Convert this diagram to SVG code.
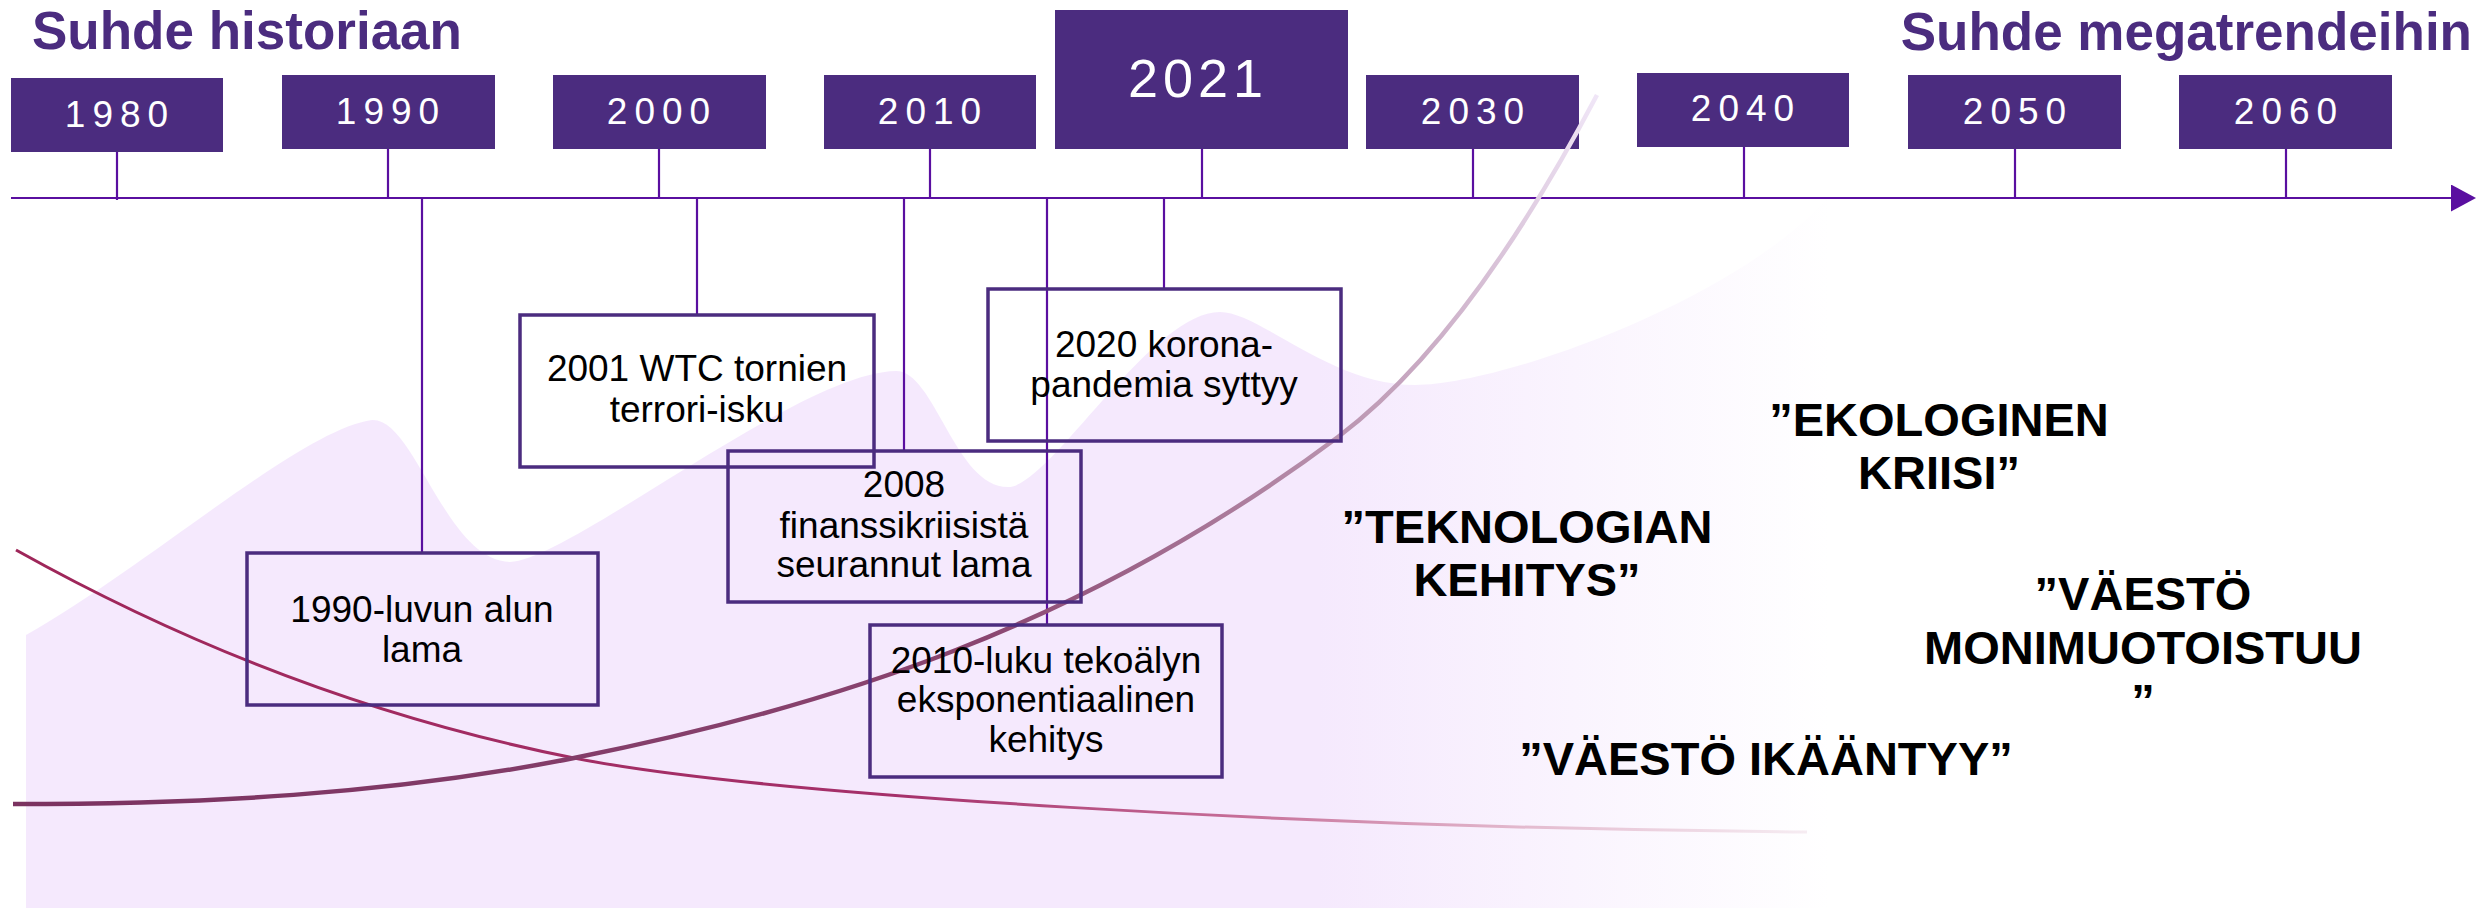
<svg xmlns="http://www.w3.org/2000/svg" width="2489" height="908" viewBox="0 0 2489 908">
  <defs>
    <style>
      .title { font-family: "Liberation Sans", Arial, sans-serif; font-weight: bold; font-size: 53px; fill: #4B2C7F; }
      .yearbox { fill: #4B2C7F; }
      .year { font-family: "Liberation Sans", Arial, sans-serif; font-size: 37px; fill: #FFFFFF; letter-spacing: 7px; text-anchor: middle; }
      .year-big { font-family: "Liberation Sans", Arial, sans-serif; font-size: 54px; fill: #FFFFFF; letter-spacing: 5px; text-anchor: middle; }
      .tick { stroke: #5A0FA0; stroke-width: 2.2; fill: none; }
      .evbox { fill: none; stroke: #4B2C7F; stroke-width: 3.5; }
      .ev { font-family: "Liberation Sans", Arial, sans-serif; font-size: 37px; fill: #000000; text-anchor: middle; }
      .trend { font-family: "Liberation Sans", Arial, sans-serif; font-weight: bold; font-size: 47px; fill: #000000; text-anchor: middle; }
    </style>
    <linearGradient id="bgGrad" gradientUnits="userSpaceOnUse" x1="0" y1="0" x2="1830" y2="0">
      <stop offset="0" stop-color="#F5E9FD"/>
      <stop offset="0.72" stop-color="#F5E9FD"/>
      <stop offset="1" stop-color="#FFFFFF"/>
    </linearGradient>
    <linearGradient id="growGrad" gradientUnits="userSpaceOnUse" x1="13" y1="804" x2="1597" y2="95">
      <stop offset="0" stop-color="#7B3260"/>
      <stop offset="0.55" stop-color="#8A4570"/>
      <stop offset="0.78" stop-color="#B992AE"/>
      <stop offset="1" stop-color="#F0E6F7"/>
    </linearGradient>
    <linearGradient id="decayGrad" gradientUnits="userSpaceOnUse" x1="16" y1="550" x2="1807" y2="832">
      <stop offset="0" stop-color="#9E2659"/>
      <stop offset="0.5" stop-color="#A5306A"/>
      <stop offset="0.68" stop-color="#C46A95"/>
      <stop offset="0.85" stop-color="#E4BCD0"/>
      <stop offset="1" stop-color="#F6ECF2"/>
    </linearGradient>
    <marker id="arrow" markerUnits="userSpaceOnUse" markerWidth="26" markerHeight="28" refX="1" refY="13.5" orient="auto">
      <path d="M0,0 L25,13.5 L0,27 Z" fill="#5A0FA0"/>
    </marker>
  </defs>

  <rect width="2489" height="908" fill="#FFFFFF"/>

  <g id="background">
    <path d="M26,908 L26,635 C150,565 300,430 372,420 C415,418 445,560 510,562 C570,560 800,372 896,371 C935,371 955,487 1008,487 C1050,487 1150,312 1220,312 C1260,312 1330,385 1415,385 C1500,385 1740,300 1830,195 L1830,908 Z" fill="url(#bgGrad)"/>
  </g>

  <g id="titles">
    <text class="title" x="32" y="49">Suhde historiaan</text>
    <text class="title" x="2472" y="50" text-anchor="end">Suhde megatrendeihin</text>
  </g>

  <g id="connectors">
    <line class="tick" x1="11" y1="198" x2="2452" y2="198" stroke-width="2.5" marker-end="url(#arrow)"/>
    <line class="tick" x1="117" y1="152" x2="117" y2="200"/>
    <line class="tick" x1="388" y1="149" x2="388" y2="198"/>
    <line class="tick" x1="659" y1="149" x2="659" y2="198"/>
    <line class="tick" x1="930" y1="149" x2="930" y2="198"/>
    <line class="tick" x1="1202" y1="149" x2="1202" y2="198"/>
    <line class="tick" x1="1473" y1="149" x2="1473" y2="198"/>
    <line class="tick" x1="1744" y1="147" x2="1744" y2="198"/>
    <line class="tick" x1="2015" y1="149" x2="2015" y2="198"/>
    <line class="tick" x1="2286" y1="149" x2="2286" y2="198"/>
    <line class="tick" x1="422" y1="198" x2="422" y2="553"/>
    <line class="tick" x1="697" y1="198" x2="697" y2="315"/>
    <line class="tick" x1="904" y1="198" x2="904" y2="451"/>
    <line class="tick" x1="1047" y1="198" x2="1047" y2="625"/>
    <line class="tick" x1="1164" y1="198" x2="1164" y2="289"/>
  </g>

  <g id="year-1980"><rect class="yearbox" x="11" y="78" width="212" height="74"/><text class="year" x="120" y="127">1980</text></g>
  <g id="year-1990"><rect class="yearbox" x="282" y="75" width="213" height="74"/><text class="year" x="391" y="124">1990</text></g>
  <g id="year-2000"><rect class="yearbox" x="553" y="75" width="213" height="74"/><text class="year" x="662" y="124">2000</text></g>
  <g id="year-2010"><rect class="yearbox" x="824" y="75" width="212" height="74"/><text class="year" x="933" y="124">2010</text></g>
  <g id="year-2021"><rect class="yearbox" x="1055" y="10" width="293" height="139"/><text class="year-big" x="1198" y="97">2021</text></g>
  <g id="year-2030"><rect class="yearbox" x="1366" y="75" width="213" height="74"/><text class="year" x="1476" y="124">2030</text></g>
  <g id="year-2040"><rect class="yearbox" x="1637" y="73" width="212" height="74"/><text class="year" x="1746" y="121">2040</text></g>
  <g id="year-2050"><rect class="yearbox" x="1908" y="75" width="213" height="74"/><text class="year" x="2018" y="124">2050</text></g>
  <g id="year-2060"><rect class="yearbox" x="2179" y="75" width="213" height="74"/><text class="year" x="2289" y="124">2060</text></g>

  <g id="curves">
    <path d="M16,550 C202,654 388,721 574,758 C760,795 1300,828 1807,832" fill="none" stroke="url(#decayGrad)" stroke-width="3"/>
    <path d="M13,804 C200,804 387,795 574,758 C829,707 1083,628 1338,437 C1424,372 1511,258 1597,95" fill="none" stroke="url(#growGrad)" stroke-width="4.5"/>
  </g>

  <g id="event-1990">
    <rect class="evbox" x="247" y="553" width="351" height="152"/>
    <text class="ev" x="422" y="622">1990-luvun alun</text>
    <text class="ev" x="422" y="662">lama</text>
  </g>
  <g id="event-2001">
    <rect class="evbox" x="520" y="315" width="354" height="152"/>
    <text class="ev" x="697" y="381">2001 WTC tornien</text>
    <text class="ev" x="697" y="422">terrori-isku</text>
  </g>
  <g id="event-2008">
    <rect class="evbox" x="728" y="451" width="353" height="151"/>
    <text class="ev" x="904" y="497">2008</text>
    <text class="ev" x="904" y="538">finanssikriisistä</text>
    <text class="ev" x="904" y="577">seurannut lama</text>
  </g>
  <g id="event-2020">
    <rect class="evbox" x="988" y="289" width="353" height="152"/>
    <text class="ev" x="1164" y="357">2020 korona-</text>
    <text class="ev" x="1164" y="397">pandemia syttyy</text>
  </g>
  <g id="event-2010">
    <rect class="evbox" x="870" y="625" width="352" height="152"/>
    <text class="ev" x="1046" y="673">2010-luku tekoälyn</text>
    <text class="ev" x="1046" y="712">eksponentiaalinen</text>
    <text class="ev" x="1046" y="752">kehitys</text>
  </g>

  <g id="trend-teknologia">
    <text class="trend" x="1527" y="543">”TEKNOLOGIAN</text>
    <text class="trend" x="1527" y="596">KEHITYS”</text>
  </g>
  <g id="trend-ekologinen">
    <text class="trend" x="1939" y="436">”EKOLOGINEN</text>
    <text class="trend" x="1939" y="489">KRIISI”</text>
  </g>
  <g id="trend-monimuotoistuu">
    <text class="trend" x="2143" y="610">”VÄESTÖ</text>
    <text class="trend" x="2143" y="664">MONIMUOTOISTUU</text>
    <text class="trend" x="2143" y="717">”</text>
  </g>
  <g id="trend-ikaantyy">
    <text class="trend" x="1766" y="775">”VÄESTÖ IKÄÄNTYY”</text>
  </g>
</svg>
